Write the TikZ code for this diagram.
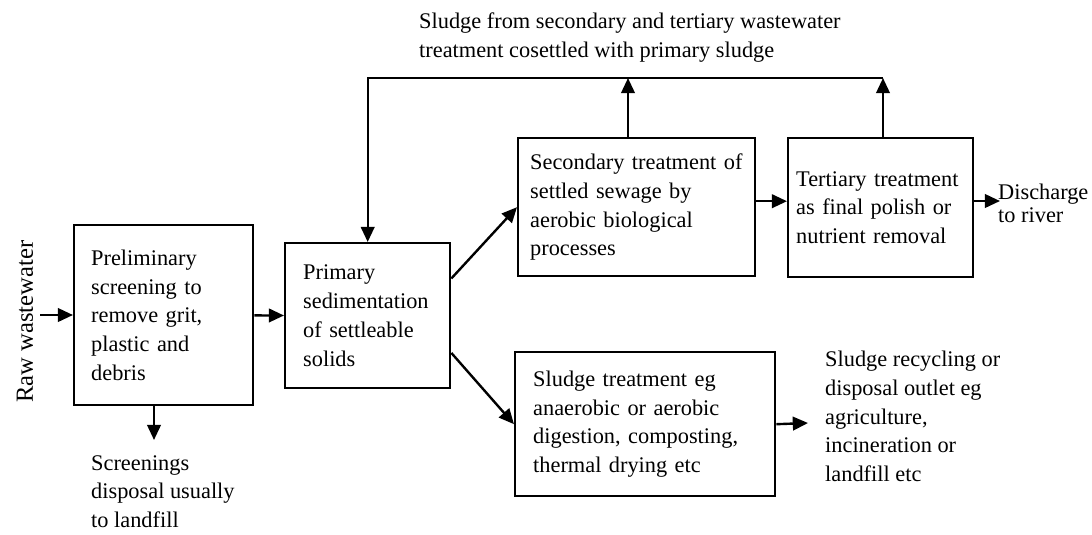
\documentclass[tikz,border=0pt]{standalone}
\usepackage{fontspec}
\setmainfont{Liberation Serif}
\usetikzlibrary{arrows.meta}

\begin{document}
\begin{tikzpicture}
    [>={Triangle[length=0.38cm,width=0.34cm]},line width=1.7pt,
     font=\fontsize{15.9}{20.4}\selectfont,
     box/.style={draw,anchor=north west,align=left,inner ysep=0pt},
     label/.style={anchor=north west,align=left,inner sep=0pt}]
    \useasboundingbox (0,0) rectangle (27.3,-13.35);
    \node (prelim) at (1.825,-5.6) [box,minimum width=4.475cm,minimum height=4.5cm,inner xsep=0.425cm,text width=3.625cm] {Preliminary\\screening to\\remove grit,\\plastic and\\debris};
    \node (primary) at (7.1,-6.05) [box,minimum width=4.125cm,minimum height=3.625cm,inner xsep=0.45cm,text width=3.225cm] {Primary\\sedimentation\\of settleable\\solids};
    \node (secondary) at (12.925,-3.425) [box,minimum width=5.925cm,minimum height=3.45cm,inner xsep=0.3cm,text width=5.325cm] {Secondary treatment of\\settled sewage by\\aerobic biological\\processes};
    \node (tertiary) at (19.675,-3.425) [box,minimum width=4.625cm,minimum height=3.475cm,inner xsep=0.2cm,text width=4.225cm] {Tertiary treatment\\as final polish or\\nutrient removal};
    \node (sludge) at (12.85,-8.775) [box,minimum width=6.5cm,minimum height=3.6cm,inner xsep=0.45cm,text width=5.6cm] {Sludge treatment eg\\anaerobic or aerobic\\digestion, composting,\\thermal drying etc};
    \node (raw) at (0.625,-8.04) [rotate=90,inner sep=0pt,font=\fontsize{17.5}{21}\selectfont] {Raw wastewater};
    \node (cosettle) at (10.45,-0.29) [label] {Sludge from secondary and tertiary wastewater\\treatment cosettled with primary sludge};
    \node (screen) at (2.25,-11.35) [label] {Screenings\\disposal usually\\to landfill};
    \node (recycle) at (20.6,-8.75) [label] {Sludge recycling or\\disposal outlet eg\\agriculture,\\incineration or\\landfill etc};
    \node (discharge) at (24.925,-4.575) [label,font=\fontsize{15.9}{16.5}\selectfont] {Discharge\\to river};
    \coordinate (rawin) at (1.0,-7.875);
    \coordinate (scrtip) at (3.85,-11.0);
    \coordinate (distip) at (25.0,-5.025);
    \coordinate (rectip) at (20.2,-10.575);
    \coordinate (t3) at (15.7,-1.95);
    \coordinate (tr) at (22.075,-1.95);
    \coordinate (tl) at (primary.north |- tr);
    \draw [->] (rawin) to (rawin -| prelim.west);
    \draw [->] (prelim) to (primary);
    \draw [->] (scrtip |- prelim.south) to (scrtip);
    \draw [->] (primary.24) to (secondary.west);
    \draw [->] (primary.-24) to (sludge.west);
    \draw [->] ([yshift=0.15cm]secondary.east) to ([yshift=0.15cm]secondary.east -| tertiary.west);
    \draw [->] (distip -| tertiary.east) to (distip);
    \draw [->] (sludge.east) to (rectip);
    \draw [->] (t3 |- secondary.north) to (t3);
    \draw [->] (tr |- tertiary.north) to (tr);
    \draw [->] (tr) -- (tl) -- (primary.north);
  \end{tikzpicture}
\end{document}
